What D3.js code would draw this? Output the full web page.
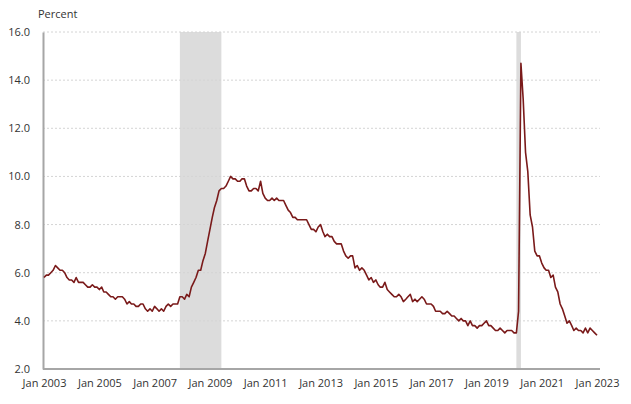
<!DOCTYPE html>
<html>
<head>
<meta charset="utf-8">
<script src="https://cdn.jsdelivr.net/npm/d3@7"></script>
<style>
  body { margin: 0; background: #fff; }
  text { font-family: "Open Sans", "Noto Sans", sans-serif; fill: #333; }
</style>
</head>
<body>
<svg></svg>
<script>
// data

let startYear = 2003;
let rates = [
  5.8, 5.9, 5.9, 6.0, 6.1, 6.3, 6.2, 6.1, 6.1, 6.0, 5.8, 5.7,
  5.7, 5.6, 5.8, 5.6, 5.6, 5.6, 5.5, 5.4, 5.4, 5.5, 5.4, 5.4,
  5.3, 5.4, 5.2, 5.2, 5.1, 5.0, 5.0, 4.9, 5.0, 5.0, 5.0, 4.9,
  4.7, 4.8, 4.7, 4.7, 4.6, 4.6, 4.7, 4.7, 4.5, 4.4, 4.5, 4.4,
  4.6, 4.5, 4.4, 4.5, 4.4, 4.6, 4.7, 4.6, 4.7, 4.7, 4.7, 5.0,
  5.0, 4.9, 5.1, 5.0, 5.4, 5.6, 5.8, 6.1, 6.1, 6.5, 6.8, 7.3,
  7.8, 8.3, 8.7, 9.0, 9.4, 9.5, 9.5, 9.6, 9.8, 10.0, 9.9, 9.9,
  9.8, 9.8, 9.9, 9.9, 9.6, 9.4, 9.4, 9.5, 9.5, 9.4, 9.8, 9.3,
  9.1, 9.0, 9.0, 9.1, 9.0, 9.1, 9.0, 9.0, 9.0, 8.8, 8.6, 8.5,
  8.3, 8.3, 8.2, 8.2, 8.2, 8.2, 8.2, 8.0, 7.8, 7.8, 7.7, 7.9,
  8.0, 7.7, 7.5, 7.6, 7.5, 7.5, 7.3, 7.2, 7.2, 7.2, 6.9, 6.7,
  6.6, 6.7, 6.7, 6.2, 6.3, 6.1, 6.2, 6.1, 5.9, 5.7, 5.8, 5.6,
  5.7, 5.5, 5.4, 5.4, 5.6, 5.3, 5.2, 5.1, 5.0, 5.0, 5.1, 5.0,
  4.8, 4.9, 5.0, 5.1, 4.8, 4.9, 4.8, 4.9, 5.0, 4.9, 4.7, 4.7,
  4.7, 4.6, 4.4, 4.4, 4.4, 4.3, 4.3, 4.4, 4.3, 4.2, 4.2, 4.1,
  4.0, 4.1, 4.0, 4.0, 3.8, 4.0, 3.8, 3.8, 3.7, 3.8, 3.8, 3.9,
  4.0, 3.8, 3.8, 3.7, 3.6, 3.6, 3.7, 3.6, 3.5, 3.6, 3.6, 3.6,
  3.5, 3.5, 4.4, 14.7, 13.2, 11.0, 10.2, 8.4, 7.9, 6.9, 6.7, 6.7,
  6.4, 6.2, 6.1, 6.1, 5.8, 5.9, 5.4, 5.2, 4.7, 4.5, 4.2, 3.9,
  4.0, 3.8, 3.6, 3.7, 3.6, 3.6, 3.5, 3.7, 3.5, 3.7, 3.6, 3.5,
  3.4
];
// recession periods [start, end] as "YYYY-MM"
let recessions = [["2007-12", "2009-06"], ["2020-02", "2020-04"]];
let yTicks = [2, 4, 6, 8, 10, 12, 14, 16];
let xTickYears = [2003, 2005, 2007, 2009, 2011, 2013, 2015, 2017, 2019, 2021, 2023];

// graphics

let width = 631, height = 404;
let margin = { top: 32, right: 31, bottom: 35, left: 43 };

let svg = d3.select("svg")
  .attr("width", width)
  .attr("height", height)
  ;

let series = rates.map((r, i) => ({ date: new Date(startYear, i, 1), rate: r }));

let x = d3.scaleTime()
  .domain([new Date(2003, 0, 1), new Date(2023, 0, 1)])
  .range([44, 597])
  ;

let y = d3.scaleLinear()
  .domain([2, 16])
  .range([height - margin.bottom, margin.top])
  ;

let parseMonth = d3.timeParse("%Y-%m");

// recession bars
svg.selectAll("rect.recession")
  .data(recessions)
  .enter()
  .append("rect")
  .classed("recession", true)
  .attr("x", d => x(parseMonth(d[0])))
  .attr("width", d => x(parseMonth(d[1])) - x(parseMonth(d[0])))
  .attr("y", y(16))
  .attr("height", y(2) - y(16))
  .attr("fill", "#dcdcdc")
  ;

// gridlines
svg.selectAll("line.grid")
  .data(yTicks.filter(t => t > 2))
  .enter()
  .append("line")
  .classed("grid", true)
  .attr("x1", margin.left)
  .attr("x2", width - margin.right)
  .attr("y1", d => y(d))
  .attr("y2", d => y(d))
  .attr("stroke", "#d4d4d4")
  .attr("stroke-width", 1)
  .attr("stroke-dasharray", "2,2")
  ;

// axes
let yAxis = svg.append("g")
  .attr("transform", `translate(${margin.left},0)`)
  .call(d3.axisLeft(y).tickValues(yTicks).tickFormat(d3.format(".1f")).tickSize(0).tickPadding(13))
  ;
yAxis.select(".domain").attr("stroke", "#a6a6a6").attr("stroke-width", 2);
yAxis.selectAll("text").style("font-size", "11px").attr("fill", "#333");

let xAxis = svg.append("g")
  .attr("transform", `translate(0,${y(2)})`)
  .call(d3.axisBottom(x)
    .tickValues(xTickYears.map(yr => new Date(yr, 0, 1)))
    .tickFormat(d3.timeFormat("Jan %Y"))
    .tickSize(0)
    .tickPadding(10))
  ;
xAxis.select(".domain").attr("d", `M${margin.left},0H${width - margin.right}`)
  .attr("stroke", "#a6a6a6").attr("stroke-width", 2);
xAxis.selectAll("text").style("font-size", "11px").attr("fill", "#333");

// line
let line = d3.line()
  .x(d => x(d.date))
  .y(d => y(d.rate))
  ;

svg.append("path")
  .datum(series)
  .attr("d", line)
  .attr("fill", "none")
  .attr("stroke", "#7a1a1a")
  .attr("stroke-width", 1.6)
  .attr("stroke-linejoin", "round")
  ;

svg.append("text")
  .text("Percent")
  .attr("x", 38)
  .attr("y", 18)
  .style("font-size", "11px")
  ;
</script>
</body>
</html>
